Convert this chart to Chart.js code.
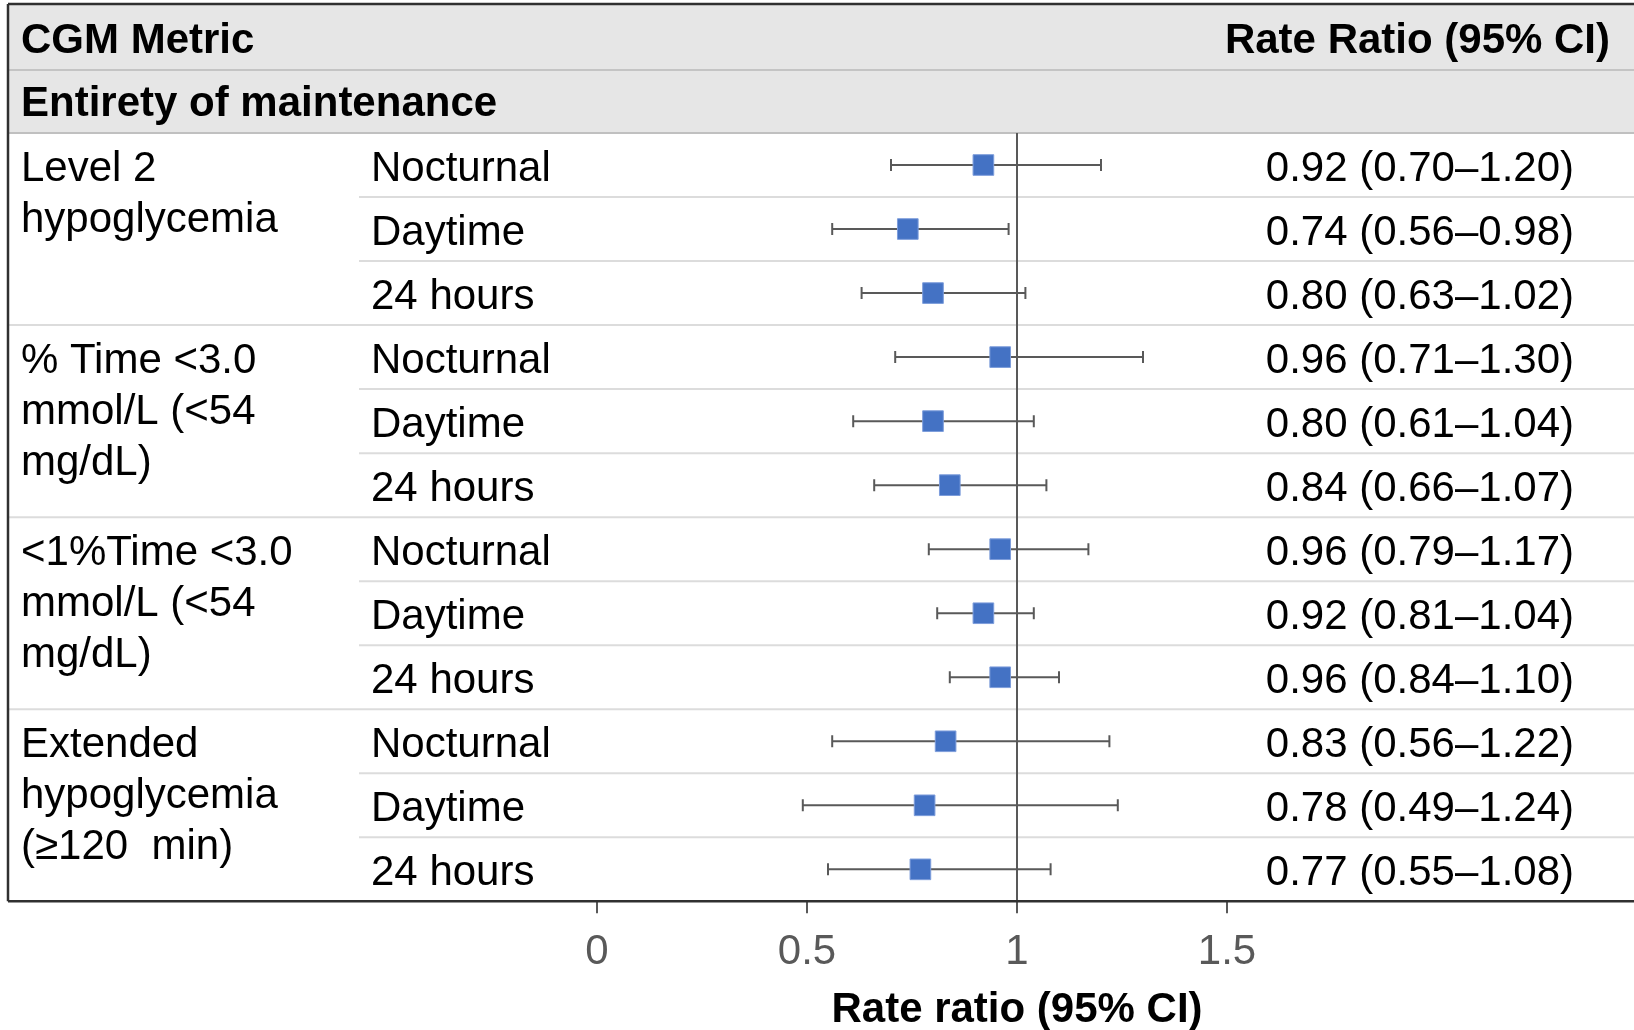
<!DOCTYPE html>
<html>
<head>
<meta charset="utf-8">
<title>CGM metric rate ratios</title>
<script src="https://cdn.jsdelivr.net/npm/chart.js@4.4.1/dist/chart.umd.min.js"></script>
<style>
    html, body { margin: 0; padding: 0; background: #ffffff; }
    #wrap { width: 1634px; height: 1030px; position: relative; }
</style>
</head>
<body>
<div id="wrap"><canvas id="forestChart"></canvas></div>
<script>
// Forest plot data - one value per row, rows grouped by three
const headerLeft = 'CGM Metric';
const headerRight = 'Rate Ratio (95% CI)';
const sectionTitle = 'Entirety of maintenance';
const groupLabels = [
    ['Level 2', 'hypoglycemia'],
    ['% Time <3.0', 'mmol/L (<54', 'mg/dL)'],
    ['<1%Time <3.0', 'mmol/L (<54', 'mg/dL)'],
    ['Extended', 'hypoglycemia', '(≥120  min)']
];
const periods = ['Nocturnal', 'Daytime', '24 hours'];
const estimates = [0.92, 0.74, 0.80, 0.96, 0.80, 0.84, 0.96, 0.92, 0.96, 0.83, 0.78, 0.77];
const lowerCI = [0.70, 0.56, 0.63, 0.71, 0.61, 0.66, 0.79, 0.81, 0.84, 0.56, 0.49, 0.55];
const upperCI = [1.20, 0.98, 1.02, 1.30, 1.04, 1.07, 1.17, 1.04, 1.10, 1.22, 1.24, 1.08];
const xTicks = [0, 0.5, 1, 1.5];
const xTickLabels = ['0', '0.5', '1', '1.5'];
const refValue = 1;

const FONT = '"Liberation Sans", Arial, sans-serif';
const markerBlue = '#4472C4';
const whiskerGrey = '#595959';

// Build datasets from the arrays
const pointData = estimates.map((v, i) => ({ x: v, y: i }));
const capData = [];
const whiskerData = [];
lowerCI.forEach((lo, i) => {
    capData.push({ x: lo, y: i }, { x: upperCI[i], y: i });
    whiskerData.push({ x: lo, y: i }, { x: upperCI[i], y: i }, { x: upperCI[i], y: null });
});
const refData = [{ x: refValue, y: -0.5 }, { x: refValue, y: estimates.length - 0.5 }];

function hline(ctx, x1, x2, y, color, width) {
    ctx.beginPath();
    ctx.strokeStyle = color;
    ctx.lineWidth = width;
    ctx.moveTo(x1, y);
    ctx.lineTo(x2, y);
    ctx.stroke();
}

// Table around the plot: header bands, row lines and text columns
const tablePlugin = {
    id: 'forestTable',
    beforeDraw(chart) {
        const { ctx, chartArea } = chart;
        const yScale = chart.scales.y;
        const W = chart.width;
        const left = 8;
        const rowH = Math.abs(yScale.getPixelForValue(1) - yScale.getPixelForValue(0));
        const top = chartArea.top;

        ctx.save();
        ctx.fillStyle = '#ffffff';
        ctx.fillRect(0, 0, W, chart.height);
        ctx.fillStyle = '#e6e6e6';
        ctx.fillRect(left, 4, W - left, top - 4);

        hline(ctx, left, W, top - rowH + 1, '#c4c4c4', 2);
        hline(ctx, left, W, top, '#c0c0c0', 2);

        for (let i = 1; i < estimates.length; i++) {
            const yy = (yScale.getPixelForValue(i - 1) + yScale.getPixelForValue(i)) / 2;
            const startX = i % periods.length === 0 ? left : 359;
            hline(ctx, startX, W, yy, '#dcdcdc', 2);
        }

        // header text
        ctx.fillStyle = '#000000';
        ctx.textBaseline = 'middle';
        ctx.font = 'bold 42px ' + FONT;
        ctx.textAlign = 'left';
        ctx.fillText(headerLeft, 21, 41);
        ctx.fillText(sectionTitle, 21, 104);
        ctx.textAlign = 'right';
        ctx.fillText(headerRight, 1610, 41);

        // row text
        ctx.font = '42px ' + FONT;
        estimates.forEach((v, i) => {
            const yc = yScale.getPixelForValue(i) + 4.5;
            ctx.textAlign = 'left';
            ctx.fillText(periods[i % periods.length], 371, yc);
            ctx.textAlign = 'right';
            const ci = v.toFixed(2) + ' (' + lowerCI[i].toFixed(2) + '\u2013' + upperCI[i].toFixed(2) + ')';
            ctx.fillText(ci, 1574, yc);
        });

        ctx.textAlign = 'left';
        groupLabels.forEach((lines, g) => {
            const y0 = yScale.getPixelForValue(g * periods.length) + 4.5;
            lines.forEach((line, k) => {
                ctx.fillText(line, 21, y0 + k * 51);
            });
        });
        ctx.restore();
    },
    afterDraw(chart) {
        const { ctx, chartArea } = chart;
        const W = chart.width;
        ctx.save();
        hline(ctx, 8, W, 4, '#303030', 2.5);
        hline(ctx, 8, W, chartArea.bottom, '#303030', 2.5);
        ctx.beginPath();
        ctx.strokeStyle = '#303030';
        ctx.lineWidth = 2.5;
        ctx.moveTo(8, 4);
        ctx.lineTo(8, chartArea.bottom);
        ctx.stroke();
        ctx.restore();
    }
};

const ctx = document.getElementById('forestChart');
new Chart(ctx, {
    type: 'scatter',
    data: {
        datasets: [
            {
                label: 'Rate ratio',
                data: pointData,
                order: 1,
                pointStyle: 'rect',
                pointRadius: 14.6,
                backgroundColor: markerBlue,
                borderColor: '#7d9ddb',
                borderWidth: 1
            },
            {
                label: 'CI caps',
                data: capData,
                order: 2,
                pointStyle: 'line',
                rotation: 90,
                pointRadius: 6,
                borderColor: whiskerGrey,
                borderWidth: 2
            },
            {
                label: 'CI',
                type: 'line',
                data: whiskerData,
                order: 3,
                spanGaps: false,
                pointRadius: 0,
                borderColor: whiskerGrey,
                borderWidth: 2
            },
            {
                label: 'No effect',
                type: 'line',
                data: refData,
                order: 4,
                pointRadius: 0,
                borderColor: whiskerGrey,
                borderWidth: 2
            }
        ]
    },
    options: {
        responsive: true,
        maintainAspectRatio: false,
        animation: false,
        events: [],
        layout: {
            padding: { left: 597, right: 197, top: 133, bottom: 0 }
        },
        plugins: {
            legend: { display: false },
            tooltip: { enabled: false }
        },
        scales: {
            x: {
                type: 'linear',
                min: 0,
                max: 2,
                afterBuildTicks: (scale) => {
                    scale.ticks = xTicks.map(v => ({ value: v }));
                },
                grid: {
                    drawOnChartArea: false,
                    drawTicks: true,
                    tickLength: 12,
                    color: whiskerGrey,
                    lineWidth: 2
                },
                border: { display: true, color: '#404040', width: 2 },
                ticks: {
                    color: whiskerGrey,
                    padding: 18,
                    font: { family: FONT, size: 42, lineHeight: 1 },
                    callback: function(value, index) {
                        return xTickLabels[index];
                    }
                },
                title: {
                    display: true,
                    text: 'Rate ratio (95% CI)',
                    color: '#000000',
                    padding: 0,
                    font: { family: FONT, size: 42, weight: 'bold', lineHeight: 0.92 }
                }
            },
            y: {
                type: 'linear',
                display: false,
                min: -0.5,
                max: estimates.length - 0.5,
                reverse: true
            }
        }
    },
    plugins: [tablePlugin]
});
</script>
</body>
</html>
